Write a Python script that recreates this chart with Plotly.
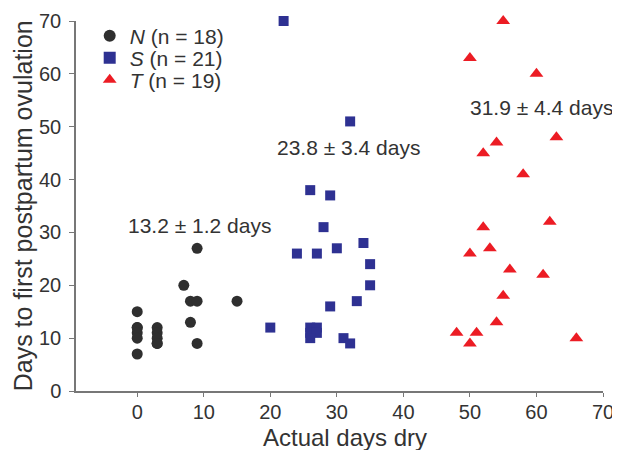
import plotly.graph_objects as go

# N group (black circles)
n_x = [0, 0, 0, 0, 0, 0, 3, 3, 3, 3, 3, 7, 8, 9, 15, 8, 9, 9]
n_y = [15, 12, 12, 11, 10, 7, 12, 11, 10, 9, 9, 20, 17, 17, 17, 13, 9, 27]

# S group (blue squares)
s_x = [22, 32, 26, 29, 28, 24, 27, 30, 34, 35, 35, 33, 29, 20, 26, 27, 26, 27, 26, 31, 32]
s_y = [70, 51, 38, 37, 31, 26, 26, 27, 28, 24, 20, 17, 16, 12, 12, 12, 11, 11, 10, 10, 9]

# T group (red triangles)
t_x = [55, 50, 60, 63, 54, 52, 58, 62, 52, 50, 53, 56, 61, 55, 54, 48, 51, 50, 66]
t_y = [70, 63, 60, 48, 47, 45, 41, 32, 31, 26, 27, 23, 22, 18, 13, 11, 11, 9, 10]

names = ["<i>N</i> (n = 18)", "<i>S</i> (n = 21)", "<i>T</i> (n = 19)"]
ann_text = ["13.2 ± 1.2 days", "23.8 ± 3.4 days", "31.9 ± 4.4 days"]
ann_x = [9.3, 31.8, 60.8]
ann_y = [31.4, 46.0, 53.6]

x_ticks = [0, 10, 20, 30, 40, 50, 60, 70]
y_ticks = [0, 10, 20, 30, 40, 50, 60, 70]
x_title = "Actual days dry"
y_title = "Days to first postpartum ovulation"

FONT = "Liberation Sans, Arial, sans-serif"
TXT = "#333333"

fig = go.Figure()
fig.add_trace(go.Scatter(x=n_x, y=n_y, mode="markers", name=names[0], legend="legend",
                         marker=dict(symbol="circle", size=11, color="#2f2f2f"),
                         cliponaxis=False))
fig.add_trace(go.Scatter(x=s_x, y=s_y, mode="markers", name=names[1], legend="legend2",
                         marker=dict(symbol="square", size=10, color="#2e3192"),
                         cliponaxis=False))
fig.add_trace(go.Scatter(x=t_x, y=t_y, mode="markers", name=names[2], legend="legend3",
                         marker=dict(symbol="triangle-up", size=12, color="#ec1c24"),
                         cliponaxis=False))

for tx, ax, ay in zip(ann_text, ann_x, ann_y):
    fig.add_annotation(x=ax, y=ay, text=tx, showarrow=False,
                       font=dict(size=21, color=TXT, family=FONT))

# axis titles as paper-anchored annotations
fig.add_annotation(x=0.51, y=-0.125, xref="paper", yref="paper",
                   xanchor="center", yanchor="middle", text=x_title, showarrow=False,
                   font=dict(size=24, color=TXT, family=FONT))
fig.add_annotation(x=-0.1, y=0.5, xref="paper", yref="paper",
                   xanchor="center", yanchor="middle", text=y_title, showarrow=False,
                   textangle=-90, font=dict(size=25, color=TXT, family=FONT))

def leg(y):
    return dict(x=0.026, y=y, xanchor="left", yanchor="middle",
                font=dict(size=21, color=TXT, family=FONT),
                bgcolor="rgba(0,0,0,0)", itemsizing="constant")

fig.update_layout(
    width=620, height=450,
    margin=dict(l=68, r=25, t=13, b=67, autoexpand=False),
    paper_bgcolor="white", plot_bgcolor="white",
    font=dict(family=FONT, color=TXT, size=20),
    showlegend=True,
    legend=leg((370 - 15) / 370),
    legend2=leg((370 - 37) / 370),
    legend3=leg((370 - 59) / 370),
    xaxis=dict(range=[-9.2, 70], tickvals=x_ticks, ticks="outside", ticklen=4,
               tickcolor="#777", showline=True, linecolor="#777", linewidth=1.5,
               showgrid=False, zeroline=False, ticklabelstandoff=-2, automargin=False,
               tickfont=dict(size=20, color=TXT, family=FONT)),
    yaxis=dict(range=[0, 70], tickvals=y_ticks, ticks="outside", ticklen=5,
               tickcolor="#777", showline=True, linecolor="#777", linewidth=1.5,
               showgrid=False, zeroline=False, ticklabelstandoff=4, automargin=False,
               tickfont=dict(size=20, color=TXT, family=FONT)),
)

fig.write_html("out.html")
